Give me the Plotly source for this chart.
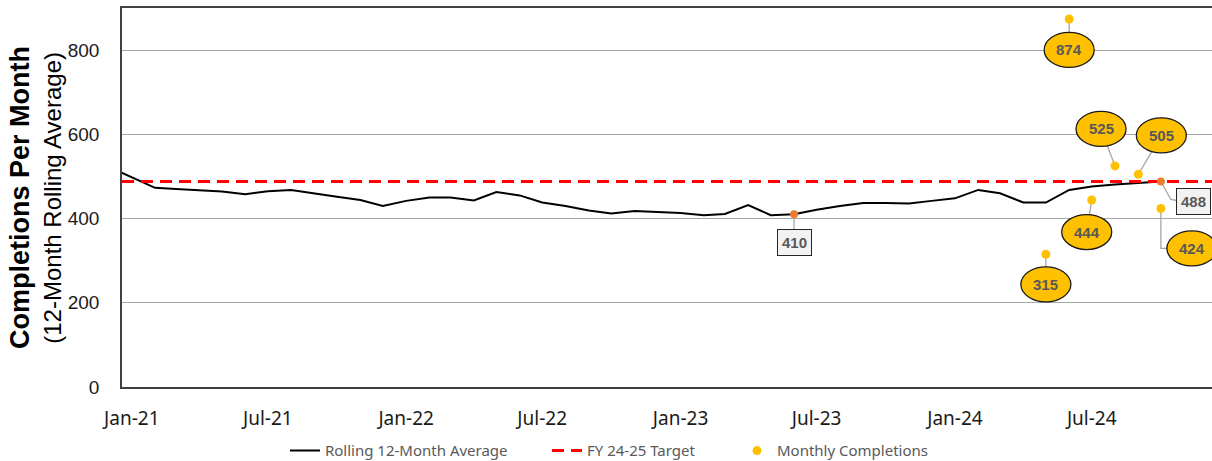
import pandas as pd
import plotly.graph_objects as go

# ---------------- data ----------------
months = pd.date_range("2020-12-01", "2024-10-01", freq="MS")
rolling_avg = [523,
               498, 473, 470, 467, 464, 458, 465, 468, 459, 452, 444, 430,
               442, 450, 450, 443, 463, 455, 438, 430, 419, 412, 418, 416,
               413, 408, 411, 432, 408, 410, 421, 430, 437, 437, 436, 442,
               448, 468, 460, 438, 438, 468, 476, 481, 485, 488]
target_value = 488
monthly_months = ["2024-05-01", "2024-06-01", "2024-07-01", "2024-08-01", "2024-09-01", "2024-10-01"]
monthly_completions = [315, 874, 444, 525, 505, 424]
highlight_months = ["2023-06-01", "2024-10-01"]
highlight_values = [410, 488]
tick_dates = ["2021-01-01", "2021-07-01", "2022-01-01", "2022-07-01",
              "2023-01-01", "2023-07-01", "2024-01-01", "2024-07-01"]
tick_text = ["Jan-21", "Jul-21", "Jan-22", "Jul-22", "Jan-23", "Jul-23", "Jan-24", "Jul-24"]
x_range = ["2020-12-19", "2024-12-08"]

# ---------------- styles ----------------
GOLD = "#FFC000"
ORANGE = "#ED7D31"
LABEL_GRAY = "#595959"
LEADER = "#A6A6A6"
AXIS = "#404040"
LEGEND_FONT = dict(family="Noto Sans", size=15, color=LABEL_GRAY)

fig = go.Figure()
fig.add_trace(go.Scatter(x=months, y=rolling_avg, mode="lines", name="Rolling 12-Month Average",
                         line=dict(color="#000000", width=2), legend="legend"))
fig.add_trace(go.Scatter(x=x_range, y=[target_value, target_value], mode="lines", name="FY 24-25 Target",
                         line=dict(color="#FF0000", width=3, dash="12px,7px"), legend="legend2"))
fig.add_trace(go.Scatter(x=monthly_months, y=monthly_completions, mode="markers", name="Monthly Completions",
                         marker=dict(color=GOLD, size=9), legend="legend3"))
fig.add_trace(go.Scatter(x=highlight_months, y=highlight_values, mode="markers", showlegend=False,
                         marker=dict(color=ORANGE, size=8)))

shapes = []
annotations = []

# ellipse callouts for monthly completions: (dx, dy) pixel offsets of ellipse centre
ell_offsets = [(0, -30), (0, -31), (-5, -32), (-14, 37), (23, 39), (31, -40)]
for m, v, (dx, dy) in zip(monthly_months, monthly_completions, ell_offsets):
    if dx > 25:
        path = f"M0,0 L0,{dy} L{dx},{dy}"
    else:
        path = f"M0,0 L{dx},{dy}"
    shapes.append(dict(type="path", path=path, xref="x", yref="y", xsizemode="pixel", ysizemode="pixel",
                       xanchor=m, yanchor=v, line=dict(color=LEADER, width=1.3), layer="below"))
    shapes.append(dict(type="circle", xref="x", yref="y", xsizemode="pixel", ysizemode="pixel",
                       xanchor=m, yanchor=v, x0=dx - 25, x1=dx + 25, y0=dy - 17.5, y1=dy + 17.5,
                       fillcolor=GOLD, line=dict(color="#1a1a1a", width=1.3), layer="above"))
    annotations.append(dict(x=m, y=v, xref="x", yref="y", text=f"<b>{v}</b>", showarrow=False,
                            xshift=dx, yshift=dy, font=dict(family="Arial", size=15, color=LABEL_GRAY)))

# box labels on the rolling average line
box_offsets = [(0, -28, "M0,0 L0,-16"), (33, -20, "M0,0 L10,-18 L16,-19")]
for m, v, (dx, dy, path) in zip(highlight_months, highlight_values, box_offsets):
    shapes.append(dict(type="path", path=path, xref="x", yref="y", xsizemode="pixel", ysizemode="pixel",
                       xanchor=m, yanchor=v, line=dict(color=LEADER, width=1.3), layer="below"))
    annotations.append(dict(x=m, y=v, xref="x", yref="y", text=f"<b>{v}</b>", showarrow=False,
                            xshift=dx, yshift=dy, font=dict(family="Arial", size=15, color=LABEL_GRAY),
                            bgcolor="#F2F2F2", bordercolor="#262626", borderwidth=1, borderpad=4))

# y-axis titles
annotations.append(dict(x=-0.094, y=0.5, xref="paper", yref="paper", text="<b>Completions Per Month</b>",
                        textangle=-90, showarrow=False, xanchor="center", yanchor="middle",
                        font=dict(family="Arial", size=27, color="#000000")))
annotations.append(dict(x=-0.064, y=0.5, xref="paper", yref="paper", text="(12-Month Rolling Average)",
                        textangle=-90, showarrow=False, xanchor="center", yanchor="middle",
                        font=dict(family="Arial", size=24, color="#000000")))

legend_common = dict(orientation="h", yref="container", y=0.022, xanchor="left", yanchor="middle",
                     font=LEGEND_FONT, bgcolor="rgba(0,0,0,0)")

fig.update_layout(
    width=1212, height=461,
    margin=dict(l=122, r=0, t=8, b=74, autoexpand=False),
    plot_bgcolor="white", paper_bgcolor="white",
    shapes=shapes, annotations=annotations,
    showlegend=True,
    legend=dict(x=0.1495, **legend_common),
    legend2=dict(x=0.3899, **legend_common),
    legend3=dict(x=0.5642, **legend_common),
    xaxis=dict(type="date", range=x_range, tickvals=tick_dates, ticktext=tick_text,
               showgrid=False, showline=True, linecolor=AXIS, linewidth=1.5, mirror=True,
               ticks="", ticklabelstandoff=13,
               tickfont=dict(family="Noto Sans", size=19, color="#1a1a1a")),
    yaxis=dict(range=[0, 900], tickvals=[0, 200, 400, 600, 800], showgrid=True, gridcolor="#A6A6A6",
               gridwidth=1, zeroline=False, showline=True, linecolor=AXIS, linewidth=1.5,
               ticks="", ticklabelstandoff=17,
               tickfont=dict(family="Arial", size=19, color="#1a1a1a")),
)

fig.write_html("out.html", config={"displayModeBar": False},
               post_script="document.body.style.margin='0px';document.body.style.overflow='hidden';")
